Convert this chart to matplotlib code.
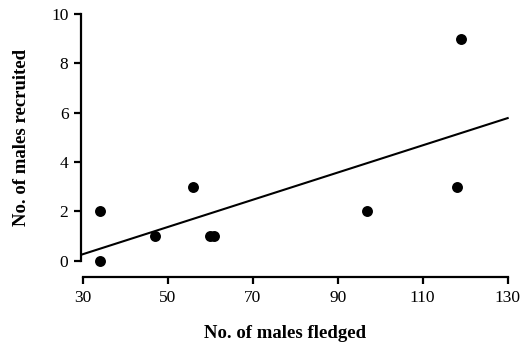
import numpy as np
import matplotlib
matplotlib.use("Agg")
import matplotlib.pyplot as plt

# males fledged vs males recruited
fledged = [34, 34, 47, 56, 60, 61, 97, 118, 119]
recruited = [2, 0, 1, 3, 1, 1, 2, 3, 9]

xticks = [30, 50, 70, 90, 110, 130]
yticks = [0, 2, 4, 6, 8, 10]

plt.rcParams['font.family'] = ['Liberation Serif', 'DejaVu Serif']

fig = plt.figure(figsize=(5.27, 3.42), dpi=100)
ax = fig.add_axes([81 / 527, 1 - 277 / 342, (509.8 - 81) / 527, (277 - 11.5) / 342])

ax.scatter(fledged, recruited, s=62, color='black', zorder=3, linewidths=0)

# least squares line across the x range
slope, icpt = np.polyfit(fledged, recruited, 1)
xl = np.array([30, 130])
ax.plot(xl, slope * xl + icpt, color='black', lw=1.5)

ax.set_xlim(29.6, 130.5)
ax.set_ylim(-0.66, 10.1)
ax.set_xticks(xticks)
ax.set_yticks(yticks)

for s in ['top', 'right']:
    ax.spines[s].set_visible(False)
ax.spines['left'].set_bounds(0, 10)
ax.spines['bottom'].set_bounds(30, 130)
ax.spines['left'].set_linewidth(1.6)
ax.spines['bottom'].set_linewidth(1.6)
ax.tick_params(direction='out', length=5, width=1.6, labelsize=12.5, pad=4)

ax.set_xlabel('No. of males fledged', fontsize=13.5, fontweight='bold')
ax.set_ylabel('No. of males recruited', fontsize=13.5, fontweight='bold')
# labels sit a bit off-centre in the original
ax.xaxis.set_label_coords(0.476, -0.18)
ax.yaxis.set_label_coords(-0.12, 0.525)

plt.savefig('out.png', dpi=100)
